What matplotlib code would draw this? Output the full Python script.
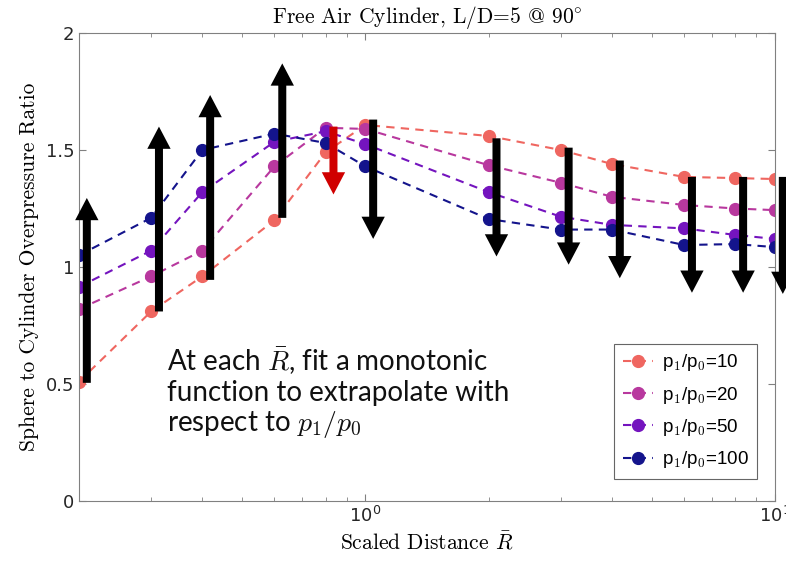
import numpy as np
import matplotlib.pyplot as plt
from matplotlib.ticker import LogLocator, NullFormatter

plt.rcParams['mathtext.fontset'] = 'cm'
plt.rcParams['axes.formatter.use_mathtext'] = True

# scaled distance R-bar
R = [0.2, 0.3, 0.4, 0.6, 0.8, 1.0, 2.0, 3.0, 4.0, 6.0, 8.0, 10.0]

# sphere / cylinder overpressure ratio for each p1/p0
ratio_10 = [0.51, 0.81, 0.96, 1.20, 1.49, 1.607, 1.56, 1.50, 1.44, 1.385, 1.38, 1.376]
ratio_20 = [0.82, 0.96, 1.07, 1.43, 1.595, 1.59, 1.435, 1.36, 1.30, 1.265, 1.25, 1.243]
ratio_50 = [0.915, 1.07, 1.32, 1.535, 1.58, 1.525, 1.32, 1.215, 1.18, 1.165, 1.137, 1.12]
ratio_100 = [1.05, 1.21, 1.50, 1.57, 1.53, 1.43, 1.205, 1.16, 1.16, 1.094, 1.098, 1.085]

series = [ratio_10, ratio_20, ratio_50, ratio_100]
labels = [r'p$_1$/p$_0$=10', r'p$_1$/p$_0$=20', r'p$_1$/p$_0$=50', r'p$_1$/p$_0$=100']
colors = ['#ef6660', '#b8389e', '#7414be', '#14148c']

# extrapolation arrows: start and end value at each R
arrow_from = [0.505, 0.81, 0.945, 1.21, 1.60, 1.63, 1.55, 1.51, 1.455, 1.385, 1.385, 1.385]
arrow_to = [1.295, 1.60, 1.735, 1.87, 1.31, 1.12, 1.045, 1.01, 0.952, 0.89, 0.89, 0.885]
arrow_col = ['k', 'k', 'k', 'k', '#d00000', 'k', 'k', 'k', 'k', 'k', 'k', 'k']

serif = ['cmr10', 'DejaVu Serif']

fig = plt.figure(figsize=(7.86, 5.67), dpi=100)
ax = fig.add_axes([0.1005, 0.1164, 0.8855, 0.8254])

for y, lab, c in zip(series, labels, colors):
    ax.plot(R, y, '--o', color=c, label=lab, lw=1.5, markersize=8.5, dashes=(4, 3))

for x, y0, y1, c in zip(R, arrow_from, arrow_to, arrow_col):
    xa = x * 1.045
    ax.annotate('', xy=(xa, y1), xytext=(xa, y0),
                arrowprops=dict(arrowstyle='simple,head_length=1.0,head_width=1.05,tail_width=0.36',
                                mutation_scale=16, fc=c, ec='none',
                                shrinkA=0, shrinkB=0),
                annotation_clip=False)

ax.set_xscale('log')
ax.set_xlim(0.2, 10)
ax.set_ylim(0, 2)
ax.set_yticks([0, 0.5, 1, 1.5, 2])
ax.set_yticklabels(['0', '0.5', '1', '1.5', '2'])
ax.xaxis.set_major_locator(LogLocator(base=10))
ax.xaxis.set_minor_locator(LogLocator(base=10, subs=np.arange(2, 10)))
ax.xaxis.set_minor_formatter(NullFormatter())
ax.tick_params(which='both', direction='in', top=True, right=True, colors='#808080',
               labelcolor='#262626', labelsize=13)
ax.tick_params(which='major', length=5)
ax.tick_params(which='minor', length=3)
for s in ax.spines.values():
    s.set_color('#808080')

ax.set_title(r'Free Air Cylinder, L/D=5 @ 90$^{\circ}$', fontsize=15.5, family=serif, pad=7)
ax.set_ylabel('Sphere to Cylinder Overpressure Ratio', fontsize=15.5, family=serif, labelpad=5)
ax.set_xlabel(r'Scaled Distance $\bar{R}$', fontsize=15.5, family=serif, labelpad=4)

ax.text(0.127, 0.231, 'At each $\\bar{R}$, fit a monotonic\nfunction to extrapolate with\nrespect to $p_1/p_0$',
        transform=ax.transAxes, fontsize=20, family='Lato', linespacing=1.15,
        va='center', ha='left', color='#111111')

leg = ax.legend(loc='lower right', frameon=True, fancybox=False,
                prop={'family': 'Liberation Sans', 'size': 13.5},
                edgecolor='#404040', handlelength=1.6, handletextpad=0.5,
                borderpad=0.45, labelspacing=0.6, bbox_to_anchor=(0.988, 0.028))
leg.get_frame().set_linewidth(0.8)

fig.savefig('out.png', dpi=100)
